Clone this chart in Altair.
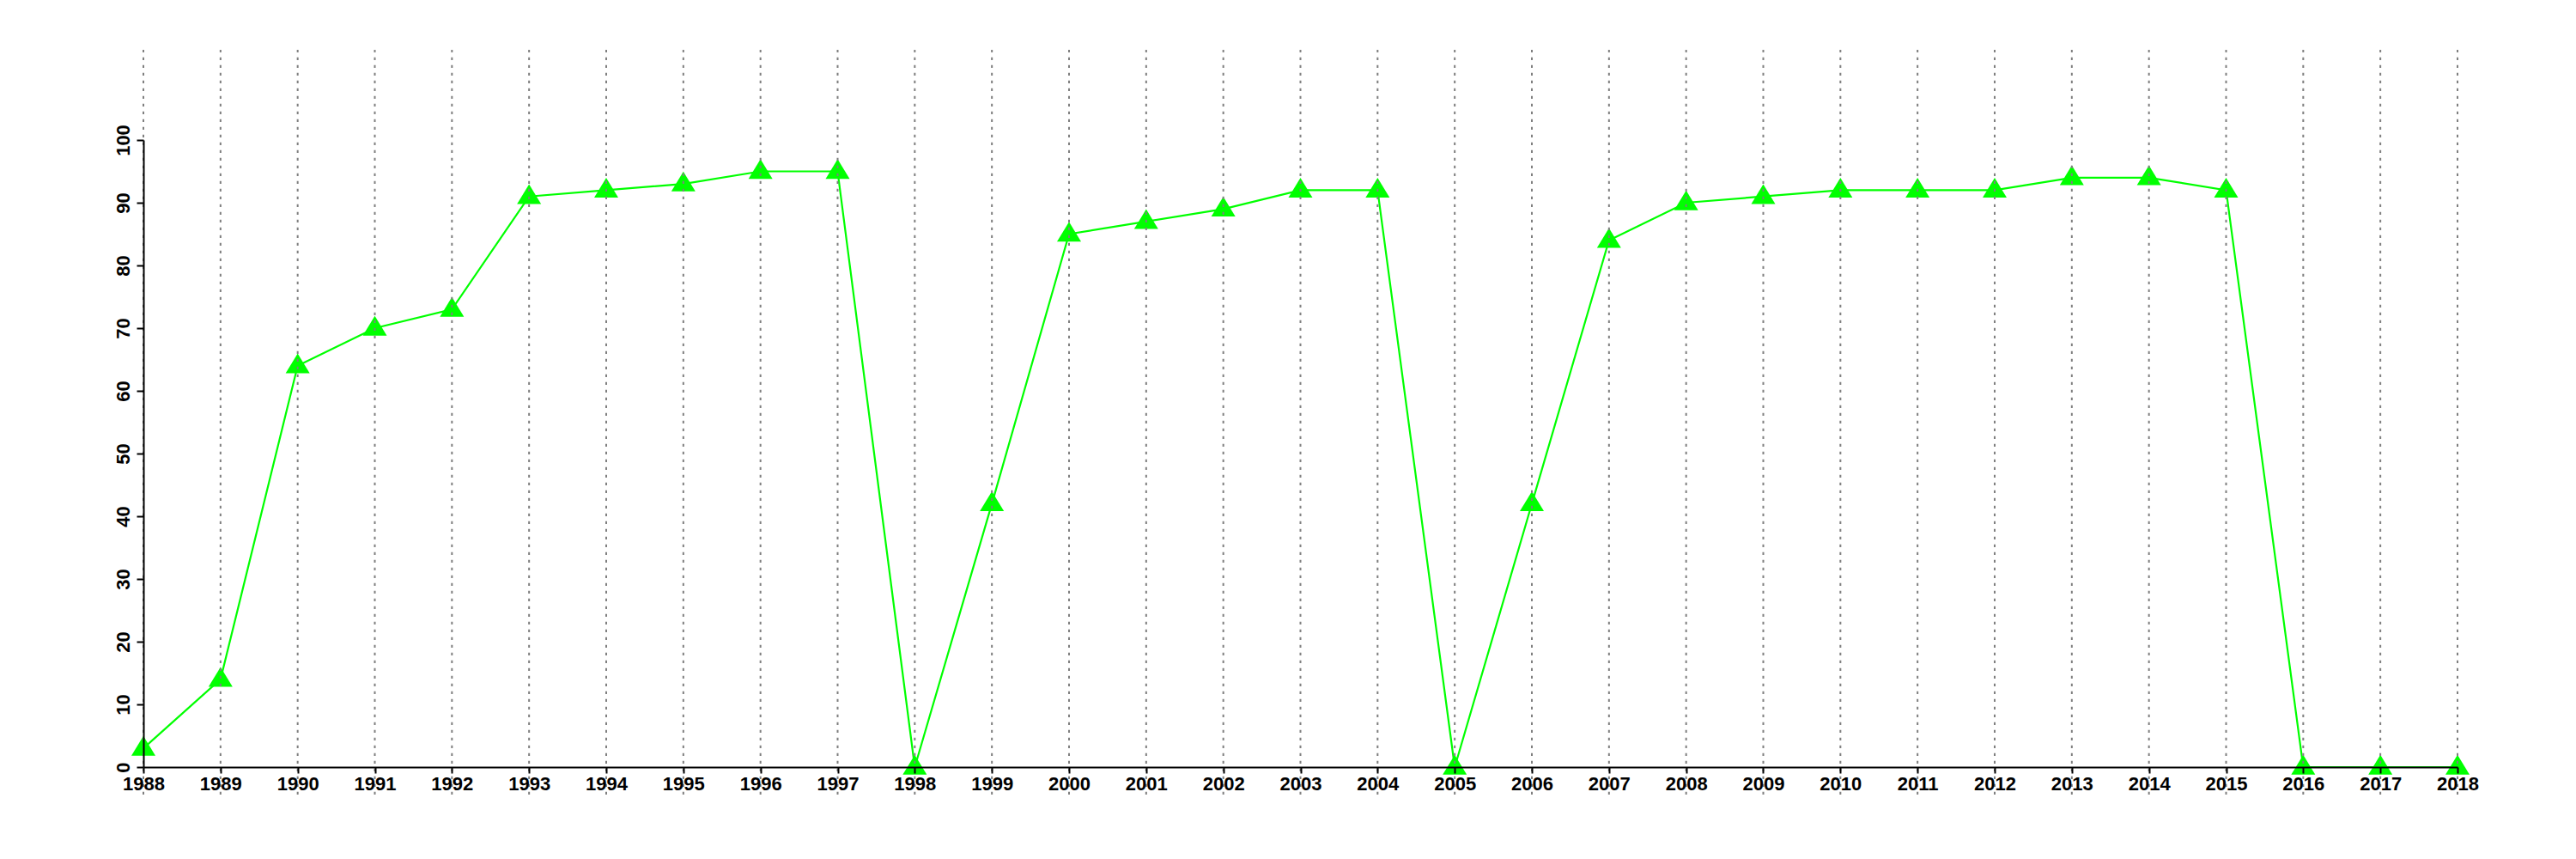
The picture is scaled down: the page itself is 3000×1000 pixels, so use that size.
import altair as alt
import pandas as pd

years = list(range(1988, 2019))
values = [3, 14, 64, 70, 73, 91, 92, 93, 95, 95,
          0, 42, 85, 87, 89, 92, 92,
          0, 42, 84, 90, 91, 92, 92, 92, 94, 94, 92,
          0, 0, 0]
y_ticks = list(range(0, 101, 10))
grid_extent = [-4.4, 114.4]

df = pd.DataFrame({"year": years, "value": values})
grid_df = pd.DataFrame({"year": years, "lo": grid_extent[0], "hi": grid_extent[1]})

W, H = 2695, 730
FONT = "Liberation Sans"

xscale = alt.Scale(domain=[years[0], years[-1]], nice=False, zero=False)
yscale = alt.Scale(domain=[0, 100], nice=False)

xaxis = alt.Axis(values=years, format="d", title=None, grid=False,
                 labelFont=FONT, labelFontSize=22, labelFontWeight="bold",
                 labelColor="black", labelPadding=2, labelFlush=False,
                 labelOverlap=False,
                 tickSize=7, tickWidth=2, tickColor="black",
                 domainColor="black", domainWidth=2, zindex=2)
yaxis = alt.Axis(values=y_ticks, title=None, grid=False,
                 labelFont=FONT, labelFontSize=22, labelFontWeight="bold",
                 labelColor="black", labelAngle=-90, labelPadding=4,
                 labelFlush=False, labelOverlap=False,
                 tickSize=8, tickWidth=2, tickColor="black",
                 domainColor="black", domainWidth=2, zindex=2)

base = alt.Chart(df)

line = base.mark_line(color="#00FF00", strokeWidth=2.2).encode(
    x=alt.X("year:Q", scale=xscale, axis=xaxis),
    y=alt.Y("value:Q", scale=yscale, axis=yaxis),
)

pts = base.mark_point(
    shape="M-1,0.62L1,0.62L0,-1.02Z", filled=True, size=784,
    color="#00FF00", opacity=1, strokeWidth=0,
).encode(x=alt.X("year:Q", scale=xscale, axis=xaxis),
         y=alt.Y("value:Q", scale=yscale, axis=yaxis))

grid = alt.Chart(grid_df).mark_rule(
    color="#7F7F7F", strokeWidth=2, strokeDash=[3.3, 5.7]
).encode(
    x=alt.X("year:Q", scale=xscale, axis=xaxis),
    y=alt.Y("lo:Q", scale=yscale, axis=yaxis),
    y2="hi:Q",
)

chart = alt.layer(line, pts, grid).properties(
    width=W, height=H,
    view=alt.ViewConfig(stroke="transparent"),
    autosize=alt.AutoSizeParams(type="none"),
    padding={"left": 159, "top": 155, "right": 130, "bottom": 90},
).configure_view(stroke="transparent", strokeWidth=0).configure_axis(
    grid=False
).configure(background="white")

chart.save("out.html", embed_options={"renderer": "svg", "actions": False})
